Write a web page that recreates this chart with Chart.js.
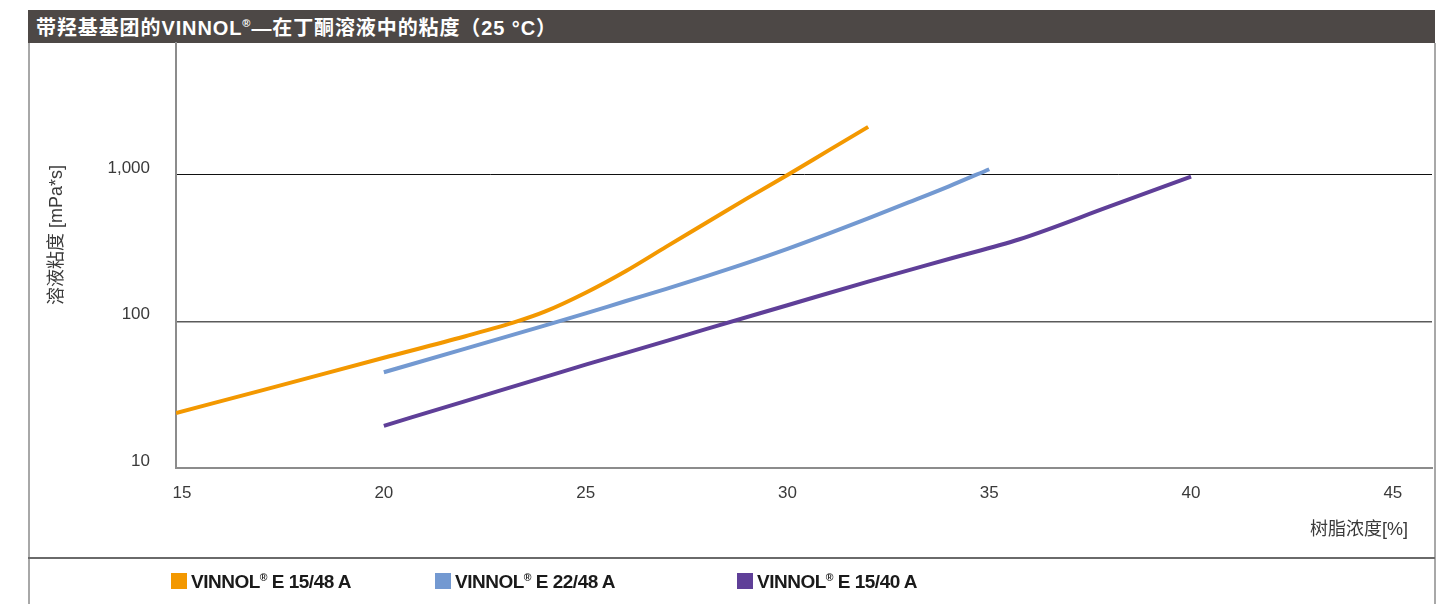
<!DOCTYPE html>
<html>
<head>
<meta charset="utf-8">
<script src="https://cdn.jsdelivr.net/npm/chart.js@4/dist/chart.umd.min.js"></script>
<style>
  html, body { margin: 0; padding: 0; background: #fff; }
  body { width: 1455px; height: 604px; position: relative; overflow: hidden;
         font-family: "Liberation Sans", "Noto Sans CJK SC", sans-serif; }
  #frame { position: absolute; left: 28px; top: 43px; width: 1404px; height: 570px;
           border-left: 2px solid #a8a8a8; border-right: 2px solid #a8a8a8; }
  #titleBar { position: absolute; left: 28px; top: 10px; width: 1407px; height: 33px;
              background: #4d4846; color: #fff; font-weight: bold; font-size: 20px; letter-spacing: 0.9px;
              line-height: 36px; padding-left: 8px; box-sizing: border-box; white-space: nowrap; }
  #titleBar sup, .lg sup { font-size: 0.55em; vertical-align: 0; position: relative; top: -0.7em; }
  #sep { position: absolute; left: 28px; top: 557px; width: 1407px; height: 2px; background: #6a6a6a; }
  #wrap { position: absolute; left: 0; top: 0; width: 1455px; height: 604px; }
  .lg { position: absolute; top: 571px; font-size: 19px; font-weight: bold; color: #1a1a1a;
        letter-spacing: -0.5px; white-space: nowrap; line-height: 22px; }
  .lg i { display: inline-block; width: 16px; height: 16px; margin-right: 4px; vertical-align: -1px; }
</style>
</head>
<body>
<div id="frame"></div>
<div id="titleBar"></div>
<div id="sep"></div>
<div id="wrap"><canvas id="viscChart"></canvas></div>
<div id="legend"></div>
<script>
// chart text
const chartTitle = '带羟基基团的VINNOL®—在丁酮溶液中的粘度（25 °C）';
const xTitle = '树脂浓度[%]';
const yTitle = '溶液粘度 [mPa*s]';
const xTicks = [15, 20, 25, 30, 35, 40, 45];
const yTicks = [10, 100, 1000];

// VINNOL E 15/48 A
const e1548Conc = [14.85, 17, 20, 22, 23.3, 24, 25, 26, 27, 28, 29, 30, 31, 32];
const e1548Visc = [23.7, 34, 56.5, 79, 100, 117, 157, 221, 324, 473, 692, 1000, 1459, 2128];
// VINNOL E 22/48 A
const e2248Conc = [20, 22, 24, 25, 26, 27, 28, 29, 30, 31, 32, 33, 34, 35];
const e2248Visc = [45, 65, 94, 113.5, 138, 167, 204, 251, 313, 396, 506, 649, 836, 1094];
// VINNOL E 15/40 A
const e1540Conc = [20, 22, 24, 25, 26, 28, 30, 32, 34, 35.75, 38, 40];
const e1540Visc = [19.4, 28.5, 41.9, 50.7, 61, 89, 129, 187, 267, 364, 612, 973];

const seriesNames = ['VINNOL® E 15/48 A', 'VINNOL® E 22/48 A', 'VINNOL® E 15/40 A'];
const seriesColors = ['#f39800', '#7399d1', '#5f3f98'];
const legendLeft = [171, 435, 737];

const textColor = '#3a3a3a';
const tickFont = { family: '"Liberation Sans", sans-serif', size: 17 };

function pts(xs, ys) {
    return xs.map((x, i) => ({ x: x, y: ys[i] }));
}

function supReg(s) {
    return s.replace('®', '<sup>®</sup>');
}

document.getElementById('titleBar').innerHTML = supReg(chartTitle);

// axis titles drawn next to the plot area
const axisTitles = {
    id: 'axisTitles',
    afterDraw(chart) {
        const { ctx, chartArea } = chart;
        ctx.save();
        ctx.fillStyle = textColor;
        ctx.font = '18px "Liberation Sans", "Noto Sans CJK SC", sans-serif';
        ctx.textBaseline = 'middle';
        ctx.textAlign = 'right';
        ctx.fillText(xTitle, chartArea.right - 24, chartArea.bottom + 62);
        ctx.translate(chartArea.left - 119, chartArea.top + 192);
        ctx.rotate(-Math.PI / 2);
        ctx.textAlign = 'center';
        ctx.fillText(yTitle, 0, 0);
        ctx.restore();
    }
};

const datasets = [
    pts(e1548Conc, e1548Visc),
    pts(e2248Conc, e2248Visc),
    pts(e1540Conc, e1540Visc)
].map((d, i) => ({
    label: seriesNames[i],
    data: d,
    borderColor: seriesColors[i],
    backgroundColor: seriesColors[i],
    borderWidth: 4,
    pointRadius: 0,
    cubicInterpolationMode: 'monotone',
    fill: false
}));

const ctx = document.getElementById('viscChart');
const viscChart = new Chart(ctx, {
    type: 'line',
    data: { datasets: datasets },
    plugins: [axisTitles],
    options: {
        responsive: true,
        maintainAspectRatio: false,
        animation: false,
        layout: { padding: { left: 28, right: 23, top: 43, bottom: 76 } },
        plugins: {
            legend: { display: false },
            tooltip: { enabled: false }
        },
        scales: {
            x: {
                type: 'linear',
                min: 14.85,
                max: 45.97,
                afterBuildTicks: (axis) => { axis.ticks = xTicks.map(v => ({ value: v })); },
                afterFit: (axis) => { axis.height = 60; },
                grid: { display: false, drawTicks: false },
                border: { color: '#8c8c8c', width: 2 },
                ticks: { color: textColor, font: tickFont, padding: 15, autoSkip: false, maxRotation: 0 }
            },
            y: {
                type: 'logarithmic',
                min: 10,
                max: 7950,
                afterBuildTicks: (axis) => { axis.ticks = yTicks.map(v => ({ value: v })); },
                afterFit: (axis) => { axis.width = 148; },
                grid: {
                    drawTicks: false,
                    color: (c) => c.tick && c.tick.value === 1000 ? '#111' : (c.tick && c.tick.value === 100 ? '#5a5a5a' : 'rgba(0,0,0,0)'),
                    lineWidth: (c) => c.tick && c.tick.value === 100 ? 1.5 : 1
                },
                border: { color: '#8c8c8c', width: 2 },
                ticks: {
                    color: textColor, font: tickFont, padding: 26, labelOffset: -7,
                    callback: (v) => v.toLocaleString('en-US')
                }
            }
        }
    }
});

// legend row from the datasets
const lg = document.getElementById('legend');
viscChart.data.datasets.forEach((ds, i) => {
    const el = document.createElement('div');
    el.className = 'lg';
    el.style.left = legendLeft[i] + 'px';
    el.innerHTML = '<i style="background:' + ds.borderColor + '"></i>' + supReg(ds.label);
    lg.appendChild(el);
});
</script>
</body>
</html>
